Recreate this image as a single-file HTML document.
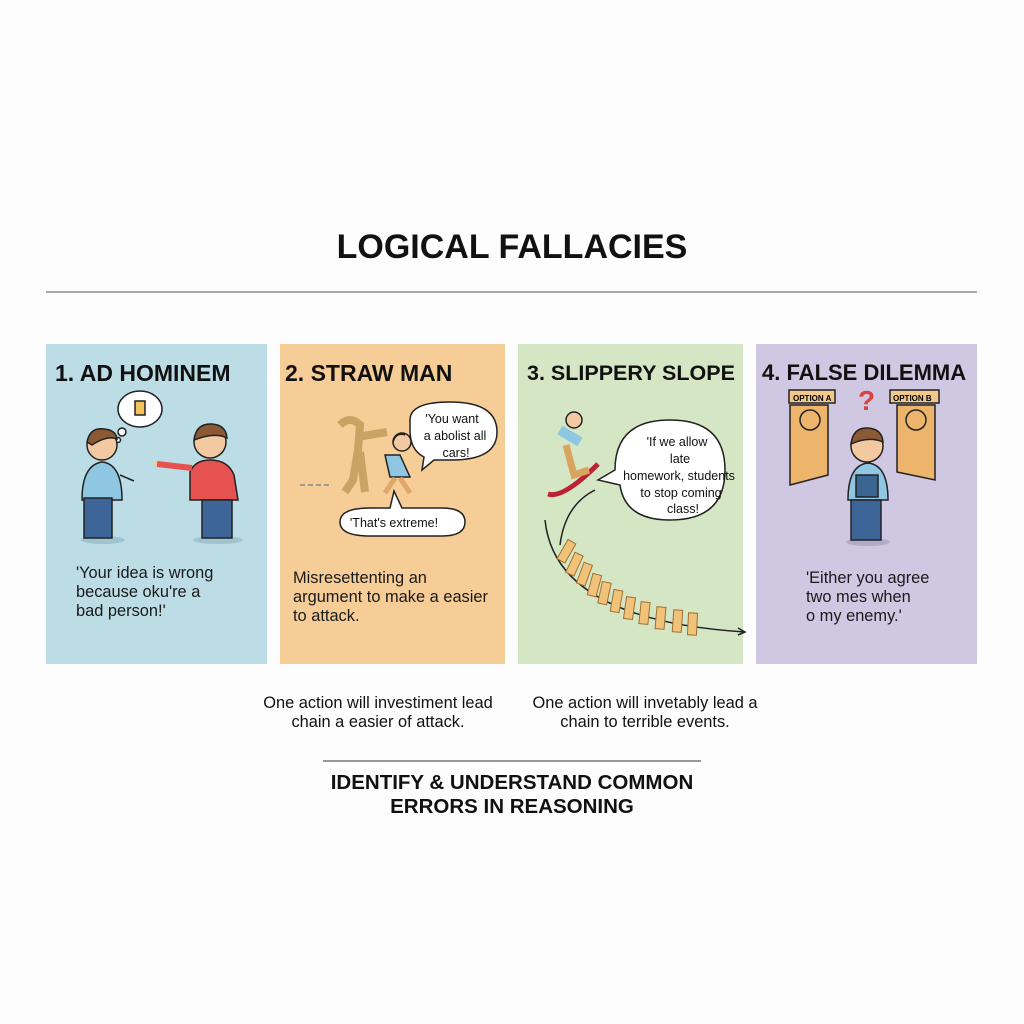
<!DOCTYPE html>
<html><head><meta charset="utf-8"><style>
body{margin:0;width:1024px;height:1024px;background:#fdfdfd;position:relative;font-family:"Liberation Sans",sans-serif;overflow:hidden}
.a{position:absolute}
.p{position:absolute;top:344px;height:320px}
h2{position:absolute;margin:0;font-size:23px;font-weight:bold;color:#111;white-space:nowrap;top:360px}
.t{position:absolute;font-size:16.4px;line-height:19px;color:#1a1a1a;white-space:nowrap}
.c{position:absolute;font-size:16.4px;line-height:19px;color:#111;text-align:center;white-space:nowrap}
</style></head><body>
<div class="a" style="left:0;width:1024px;top:228px;text-align:center;font-size:34px;font-weight:bold;color:#111">LOGICAL FALLACIES</div>
<div class="a" style="left:46px;width:931px;top:291px;height:2px;background:#aaa"></div>
<div class="p" style="left:46px;width:221px;background:#bcdde5"></div>
<div class="p" style="left:280px;width:225px;background:#f6cd96"></div>
<div class="p" style="left:518px;width:225px;background:#d5e6c5"></div>
<div class="p" style="left:756px;width:221px;background:#d0c7e2"></div>
<h2 style="left:55px">1. AD HOMINEM</h2>
<h2 style="left:285px">2. STRAW MAN</h2>
<h2 style="left:527px;font-size:21.5px;top:361px">3. SLIPPERY SLOPE</h2>
<h2 style="left:762px;font-size:22px">4. FALSE DILEMMA</h2>
<svg class="a" style="left:0;top:0" width="1024" height="1024">
<g stroke="#222" stroke-width="1.5">
<ellipse cx="140" cy="409" rx="22" ry="18" fill="#fff"/><circle cx="122" cy="432" r="4" fill="#fff"/><circle cx="118" cy="440" r="2.5" fill="#fff"/>
<rect x="135" y="401" width="10" height="14" fill="#f2c25c"/>
<ellipse cx="103" cy="540" rx="22" ry="4" fill="#9fc3cf" stroke="none"/><ellipse cx="218" cy="540" rx="25" ry="4" fill="#9fc3cf" stroke="none"/>
<circle cx="102" cy="445" r="15" fill="#f3c9a2"/><path d="M87 442q3-15 17-13q12 1 13 10q-10-4-25 6z" fill="#8b5a34"/>
<path d="M82 500q0-35 20-38q20 2 20 38z" fill="#8fc6e2"/><path d="M120 475l14 6" fill="none"/>
<rect x="84" y="498" width="28" height="40" fill="#3e6597"/>
<circle cx="210" cy="442" r="16" fill="#f3c9a2"/><path d="M194 440q2-17 18-16q14 1 15 14q-12-6-33 2z" fill="#8b5a34"/>
<path d="M190 500l0-28q5-12 20-12q18 0 24 15l4 25z" fill="#e5524f"/><path d="M192 468l-35-4" fill="none" stroke-width="6" stroke="#e5524f"/><path d="M157 464l-4 0" stroke-width="4" stroke="#f3c9a2"/>
<rect x="202" y="500" width="30" height="38" fill="#3e6597"/>
<path d="M340 425q10-10 20 0l-2 25l-5 30l-8 12m15-40l5 40m-8-55l30-5" fill="none" stroke="#c9a264" stroke-width="8"/>
<path d="M300 485h30" stroke="#888" stroke-dasharray="5 3"/>
<circle cx="402" cy="442" r="9" fill="#f3c9a2"/><path d="M393 442q3-10 12-7" fill="none"/>
<path d="M385 455l15 0l10 22l-20 0z" fill="#8fc6e2"/><path d="M395 478l-10 15m15-15l10 15" stroke="#e0a66b" stroke-width="5"/>
<path d="M410 420q0-18 40-18q47 0 47 30q0 28-45 28q-10 0-18 0l-12 10l2-13q-14-7-14-27z" fill="#fff"/>
<path d="M340 522q0-14 30-14h20l4-17l8 17h40q23 0 23 14q0 14-23 14h-72q-30 0-30-14z" fill="#fff"/>
<path d="M548 494q15 5 50-30" fill="none" stroke="#b23" stroke-width="5"/>
<path d="M560 430l20 12" stroke="#8fc6e2" stroke-width="10"/><circle cx="574" cy="420" r="8" fill="#f3c9a2"/>
<path d="M566 445l8 30l15-5" fill="none" stroke="#d9a45f" stroke-width="7"/>
<path d="M545 520q10 100 200 112" fill="none"/><path d="M738 628l7 4l-7 3" fill="none"/>
<path d="M560 545q5-40 35-55" fill="none"/>
<g fill="#f1c27a" stroke="#a07030" stroke-width="1">
<rect x="562" y="540" width="9" height="22" transform="rotate(30 566 551)"/><rect x="570" y="553" width="9" height="22" transform="rotate(25 574 564)"/><rect x="580" y="563" width="9" height="22" transform="rotate(20 584 574)"/><rect x="590" y="574" width="9" height="22" transform="rotate(15 594 585)"/><rect x="600" y="582" width="9" height="22" transform="rotate(12 604 593)"/><rect x="612" y="590" width="9" height="22" transform="rotate(10 616 601)"/><rect x="625" y="597" width="9" height="22" transform="rotate(8 629 608)"/><rect x="640" y="602" width="9" height="22" transform="rotate(6 644 613)"/><rect x="656" y="607" width="9" height="22" transform="rotate(5 660 618)"/><rect x="673" y="610" width="9" height="22" transform="rotate(4 677 621)"/><rect x="688" y="613" width="9" height="22" transform="rotate(3 692 624)"/>
</g>
<path d="M615 470q0-50 55-50q55 0 55 50q0 50-55 50q-45 0-50-35l-22-5z" fill="#fff"/>
<path d="M790 405h38v70l-38 10z" fill="#edb56c"/><rect x="789" y="390" width="46" height="13" fill="#f3c98b"/>
<path d="M897 405h38v75l-38-8z" fill="#edb56c"/><rect x="890" y="390" width="49" height="13" fill="#f3c98b"/>
<circle cx="810" cy="420" r="10" fill="none"/><circle cx="916" cy="420" r="10" fill="none"/>
<ellipse cx="868" cy="542" rx="22" ry="4" fill="#b3a9c8" stroke="none"/>
<circle cx="867" cy="446" r="16" fill="#f3c9a2"/><path d="M851 444q2-17 17-16q14 1 15 14q-14-6-32 2z" fill="#8b5a34"/>
<path d="M848 500q0-35 20-37q20 2 20 37z" fill="#8fc6e2"/><rect x="856" y="475" width="22" height="22" fill="#3a6590"/>
<rect x="851" y="500" width="30" height="40" fill="#3e6597"/>
</g>
<text x="858" y="410" font-size="28" fill="#d8433c" font-family="Liberation Sans" font-weight="bold">?</text>
<text x="793" y="401" font-size="8" font-family="Liberation Sans" font-weight="bold">OPTION A</text>
<text x="893" y="401" font-size="8" font-family="Liberation Sans" font-weight="bold">OPTION B</text>
<g font-family="Liberation Sans" font-size="12.5" fill="#111" text-anchor="middle">
<text x="452" y="423">'You want</text><text x="455" y="440">a abolist all</text><text x="456" y="457">cars!</text>
<text x="394" y="527">'That's extreme!</text>
<text x="677" y="446">'If we allow</text><text x="680" y="463">late</text><text x="679" y="480">homework, students</text><text x="681" y="497">to stop coming</text><text x="683" y="513">class!</text>
</g>
</svg>
<div class="t" style="left:76px;top:564px">'Your idea is wrong<br>because oku're a<br>bad person!'</div>
<div class="t" style="left:293px;top:569px">Misresettenting an<br>argument to make a easier<br>to attack.</div>
<div class="t" style="left:806px;top:569px">'Either you agree<br>two mes when<br>o my enemy.'</div>
<div class="c" style="left:228px;width:300px;top:694px">One action will investiment lead<br>chain a easier of attack.</div>
<div class="c" style="left:495px;width:300px;top:694px">One action will invetably lead a<br>chain to terrible events.</div>
<div class="a" style="left:323px;width:378px;top:760px;height:2px;background:#999"></div>
<div class="a" style="left:0;width:1024px;top:771px;text-align:center;font-size:20.5px;line-height:24px;font-weight:bold;color:#111">IDENTIFY &amp; UNDERSTAND COMMON<br>ERRORS IN REASONING</div>
</body></html>
